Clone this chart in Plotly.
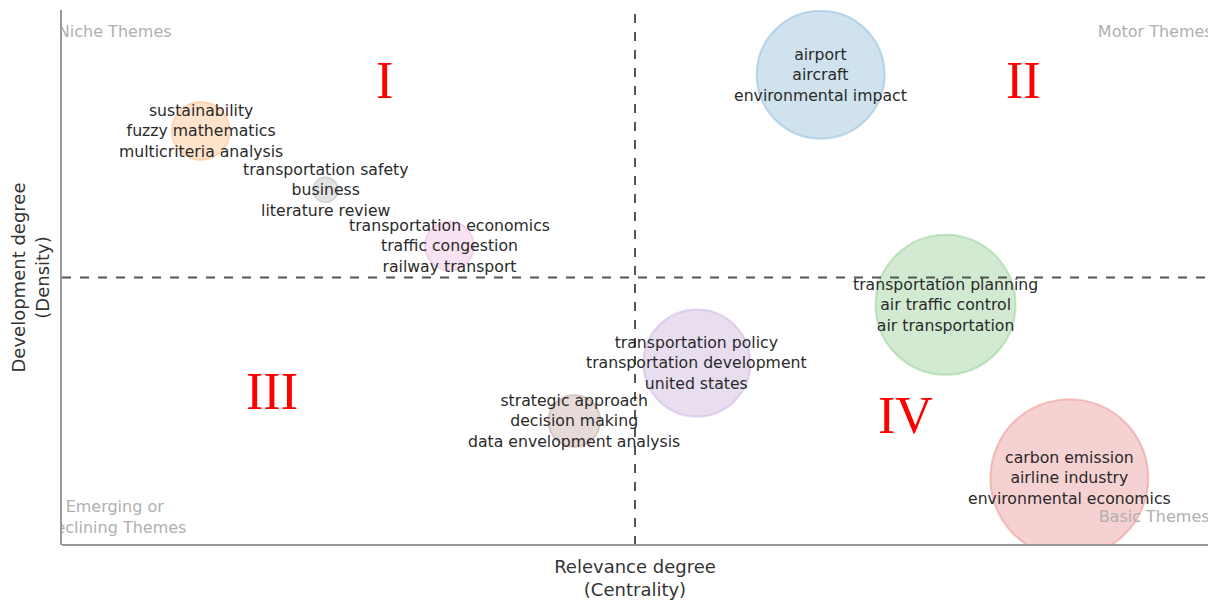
import plotly.graph_objects as go

# ---- data (centrality / density on normalised scale, cluster size) ----
clusters = [
    "sustainability<br>fuzzy mathematics<br>multicriteria analysis",
    "transportation safety<br>business<br>literature review",
    "transportation economics<br>traffic congestion<br>railway transport",
    "airport<br>aircraft<br>environmental impact",
    "transportation planning<br>air traffic control<br>air transportation",
    "transportation policy<br>transportation development<br>united states",
    "strategic approach<br>decision making<br>data envelopment analysis",
    "carbon emission<br>airline industry<br>environmental economics",
]
centrality = [0.121, 0.230, 0.338, 0.662, 0.771, 0.554, 0.447, 0.879]
density = [0.774, 0.664, 0.559, 0.879, 0.449, 0.340, 0.232, 0.125]
cluster_size = [58, 25, 49, 128, 140, 107, 52, 158]
colors = ["#ff7f0e", "#7f7f7f", "#e377c2", "#1f77b4", "#2ca02c", "#9467bd", "#8c564b", "#d62728"]

quadrant_names = ["Niche Themes", "Motor Themes", "Emerging or<br>Declining Themes", "Basic Themes"]
quadrant_x = [0.046, 0.954, 0.046, 0.953]
quadrant_y = [0.957, 0.957, 0.050, 0.050]

numerals = ["I", "II", "III", "IV"]
numeral_x = [0.281, 0.839, 0.183, 0.736]
numeral_y = [0.869, 0.869, 0.286, 0.243]

x_mid, y_mid = 0.5, 0.5

def rgba(h, a):
    h = h.lstrip("#")
    r, g, b = int(h[0:2], 16), int(h[2:4], 16), int(h[4:6], 16)
    return f"rgba({r},{g},{b},{a})"

fig = go.Figure()

fig.add_trace(go.Scatter(
    x=centrality, y=density, mode="markers",
    marker=dict(size=cluster_size, sizemode="diameter",
                color=[rgba(c, 0.3) for c in colors],
                line=dict(color=[rgba(c, 0.35) for c in colors], width=2)),
    hoverinfo="skip", showlegend=False, cliponaxis=True,
))

fig.add_trace(go.Scatter(
    x=quadrant_x, y=quadrant_y, mode="text", text=quadrant_names,
    textposition="middle center",
    textfont=dict(family="DejaVu Sans", size=16, color="#b0b0b0"),
    hoverinfo="skip", showlegend=False, cliponaxis=True,
))

for t, xx, yy in zip(clusters, centrality, density):
    fig.add_annotation(x=xx, y=yy, text=t, showarrow=False,
                       font=dict(family="DejaVu Sans", size=15.7, color="#2a2a2a"))

for t, xx, yy in zip(numerals, numeral_x, numeral_y):
    fig.add_annotation(x=xx, y=yy, text=t, showarrow=False,
                       font=dict(family="Liberation Serif", size=52, color="#ff0000"))

fig.add_shape(type="line", x0=x_mid, x1=x_mid, y0=0, y1=1, xref="x", yref="y",
              line=dict(color="#555555", width=2, dash="dash"))
fig.add_shape(type="line", x0=0, x1=1, y0=y_mid, y1=y_mid, xref="x", yref="y",
              line=dict(color="#555555", width=2, dash="dash"))
# mask bubble overflow below the plot area, then redraw the bottom axis line
fig.add_shape(type="rect", xref="paper", yref="paper", x0=0.78, x1=1.0, y0=-0.025, y1=0,
              fillcolor="white", line=dict(width=0), layer="above")
fig.add_shape(type="line", xref="paper", yref="paper", x0=0, x1=1, y0=0, y1=0,
              line=dict(color="#999999", width=2), layer="above")

fig.update_xaxes(range=[0, 1], showgrid=False, zeroline=False, showticklabels=False,
                 ticks="", showline=False,
                 title=dict(text="Relevance degree<br>(Centrality)", standoff=15,
                            font=dict(family="DejaVu Sans", size=18, color="#333333")))
fig.update_yaxes(range=[0, 1], showgrid=False, zeroline=False, showticklabels=False,
                 ticks="", showline=True, linecolor="#999999", linewidth=2,
                 title=dict(text="Development degree<br>(Density)", standoff=6,
                            font=dict(family="DejaVu Sans", size=18, color="#333333")))

fig.update_layout(width=1213, height=600, plot_bgcolor="white", paper_bgcolor="white",
                  margin=dict(l=62, r=5, t=10, b=55), hovermode=False)

fig.write_html("out.html", config={"displayModeBar": False},
               post_script="document.body.style.margin='0';document.body.style.overflow='hidden';")
